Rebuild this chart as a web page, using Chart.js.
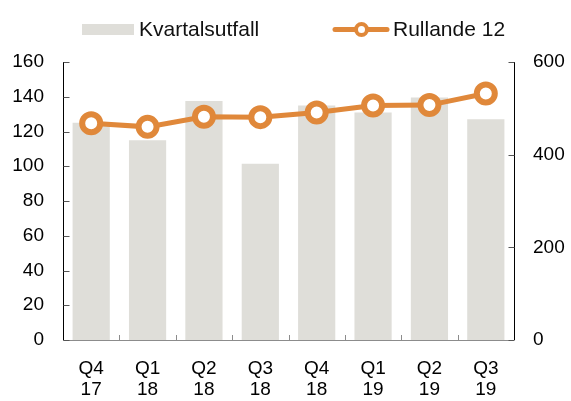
<!DOCTYPE html>
<html>
<head>
<meta charset="utf-8">
<script src="https://cdn.jsdelivr.net/npm/chart.js@4/dist/chart.umd.min.js"></script>
<style>
  html, body { margin: 0; padding: 0; background: #fff; }
  #wrap { width: 571px; height: 401px; }
</style>
</head>
<body>
<div id="wrap"><canvas id="myChart" width="571" height="401"></canvas></div>
<script>
// data
var quarters = [['Q4', '17'], ['Q1', '18'], ['Q2', '18'], ['Q3', '18'], ['Q4', '18'], ['Q1', '19'], ['Q2', '19'], ['Q3', '19']];
var kvartalsutfall = [125, 115, 137.5, 101.5, 135, 131, 139.5, 127];
var rullande12 = [468, 460, 482, 481, 491, 506, 507, 532];
var leftTicks = [0, 20, 40, 60, 80, 100, 120, 140, 160];
var rightTicks = [0, 200, 400, 600];
var seriesNames = ['Kvartalsutfall', 'Rullande 12'];

var barColor = '#dfded9';
var lineColor = '#e0883a';
var fontFamily = '"Liberation Sans", Arial, sans-serif';

Chart.defaults.font.family = fontFamily;
Chart.defaults.color = '#000';

// legend + inward tick marks drawn by hand
var customBits = {
  id: 'customBits',
  afterDatasetsDraw: function(chart) {
    var ctx = chart.ctx;
    var a = chart.chartArea;
    var x = chart.scales.x, yl = chart.scales.y, yr = chart.scales.y2;
    ctx.save();

    // bottom axis + category separators
    ctx.strokeStyle = '#8c8c8c';
    ctx.lineWidth = 1;
    ctx.beginPath();
    ctx.moveTo(a.left, Math.round(a.bottom) + 0.5);
    ctx.lineTo(a.right, Math.round(a.bottom) + 0.5);
    for (var i = 1; i < quarters.length; i++) {
      var bx = Math.round((x.getPixelForValue(i - 1) + x.getPixelForValue(i)) / 2) + 0.5;
      ctx.moveTo(bx, a.bottom);
      ctx.lineTo(bx, a.bottom - 5);
    }
    ctx.stroke();

    // left axis
    var lx = Math.round(a.left) + 0.5;
    ctx.strokeStyle = '#000';
    ctx.beginPath();
    ctx.moveTo(lx, a.top);
    ctx.lineTo(lx, a.bottom);
    ctx.stroke();
    ctx.strokeStyle = '#555';
    ctx.beginPath();
    leftTicks.forEach(function(v) {
      var ty = Math.round(yl.getPixelForValue(v)) + 0.5;
      ctx.moveTo(lx, ty);
      ctx.lineTo(lx + 6, ty);
    });
    ctx.stroke();

    // right axis
    var rx = Math.round(a.right) + 0.5;
    ctx.strokeStyle = '#000';
    ctx.beginPath();
    ctx.moveTo(rx, a.top);
    ctx.lineTo(rx, a.bottom);
    ctx.stroke();
    ctx.strokeStyle = '#555';
    ctx.beginPath();
    rightTicks.forEach(function(v) {
      var ty = Math.round(yr.getPixelForValue(v)) + 0.5;
      ctx.moveTo(rx, ty);
      ctx.lineTo(rx - 6, ty);
    });
    ctx.stroke();

    // legend
    ctx.font = '21px ' + fontFamily;
    ctx.textBaseline = 'middle';
    var ly = 29.5;
    ctx.fillStyle = barColor;
    ctx.fillRect(82, 24, 52, 11);
    ctx.fillStyle = '#111';
    ctx.fillText(seriesNames[0], 139, ly + 1);

    ctx.strokeStyle = lineColor;
    ctx.lineWidth = 5;
    ctx.lineCap = 'round';
    ctx.beginPath();
    ctx.moveTo(335, ly);
    ctx.lineTo(387, ly);
    ctx.stroke();
    ctx.beginPath();
    ctx.arc(361.5, ly, 5.5, 0, Math.PI * 2);
    ctx.fillStyle = '#fff';
    ctx.fill();
    ctx.lineWidth = 4;
    ctx.stroke();
    ctx.fillStyle = '#111';
    ctx.fillText(seriesNames[1], 393, ly + 1);

    ctx.restore();
  }
};

var ctx = document.getElementById('myChart').getContext('2d');
var myChart = new Chart(ctx, {
  type: 'bar',
  data: {
    labels: quarters,
    datasets: [{
      type: 'bar',
      label: seriesNames[0],
      data: kvartalsutfall,
      backgroundColor: barColor,
      borderWidth: 0,
      barPercentage: 0.66,
      categoryPercentage: 1,
      yAxisID: 'y',
      order: 2
    }, {
      type: 'line',
      label: seriesNames[1],
      data: rullande12,
      borderColor: lineColor,
      borderWidth: 5,
      pointRadius: 9,
      pointBorderWidth: 6,
      pointBackgroundColor: '#fff',
      pointBorderColor: lineColor,
      tension: 0,
      yAxisID: 'y2',
      order: 1
    }]
  },
  options: {
    responsive: false,
    animation: false,
    devicePixelRatio: 1,
    layout: { padding: { top: 62, left: 0, right: 0, bottom: 0 } },
    plugins: {
      legend: { display: false },
      tooltip: { enabled: false }
    },
    scales: {
      x: {
        offset: true,
        grid: { display: false, drawTicks: false },
        border: { display: false },
        ticks: { font: { size: 19, lineHeight: 1.1 }, color: '#000', padding: 18, maxRotation: 0, autoSkip: false },
        afterFit: function(s) { s.height = 61; }
      },
      y: {
        position: 'left',
        min: 0, max: 160,
        grid: { display: false, drawTicks: false },
        border: { display: false },
        ticks: { font: { size: 19 }, color: '#000', padding: 19 },
        afterBuildTicks: function(s) { s.ticks = leftTicks.map(function(v) { return { value: v }; }); },
        afterFit: function(s) { s.width = 63; }
      },
      y2: {
        position: 'right',
        min: 0, max: 600,
        grid: { display: false, drawTicks: false },
        border: { display: false },
        ticks: { font: { size: 19 }, color: '#000', padding: 19 },
        afterBuildTicks: function(s) { s.ticks = rightTicks.map(function(v) { return { value: v }; }); },
        afterFit: function(s) { s.width = 57; }
      }
    }
  },
  plugins: [customBits]
});
</script>
</body>
</html>
